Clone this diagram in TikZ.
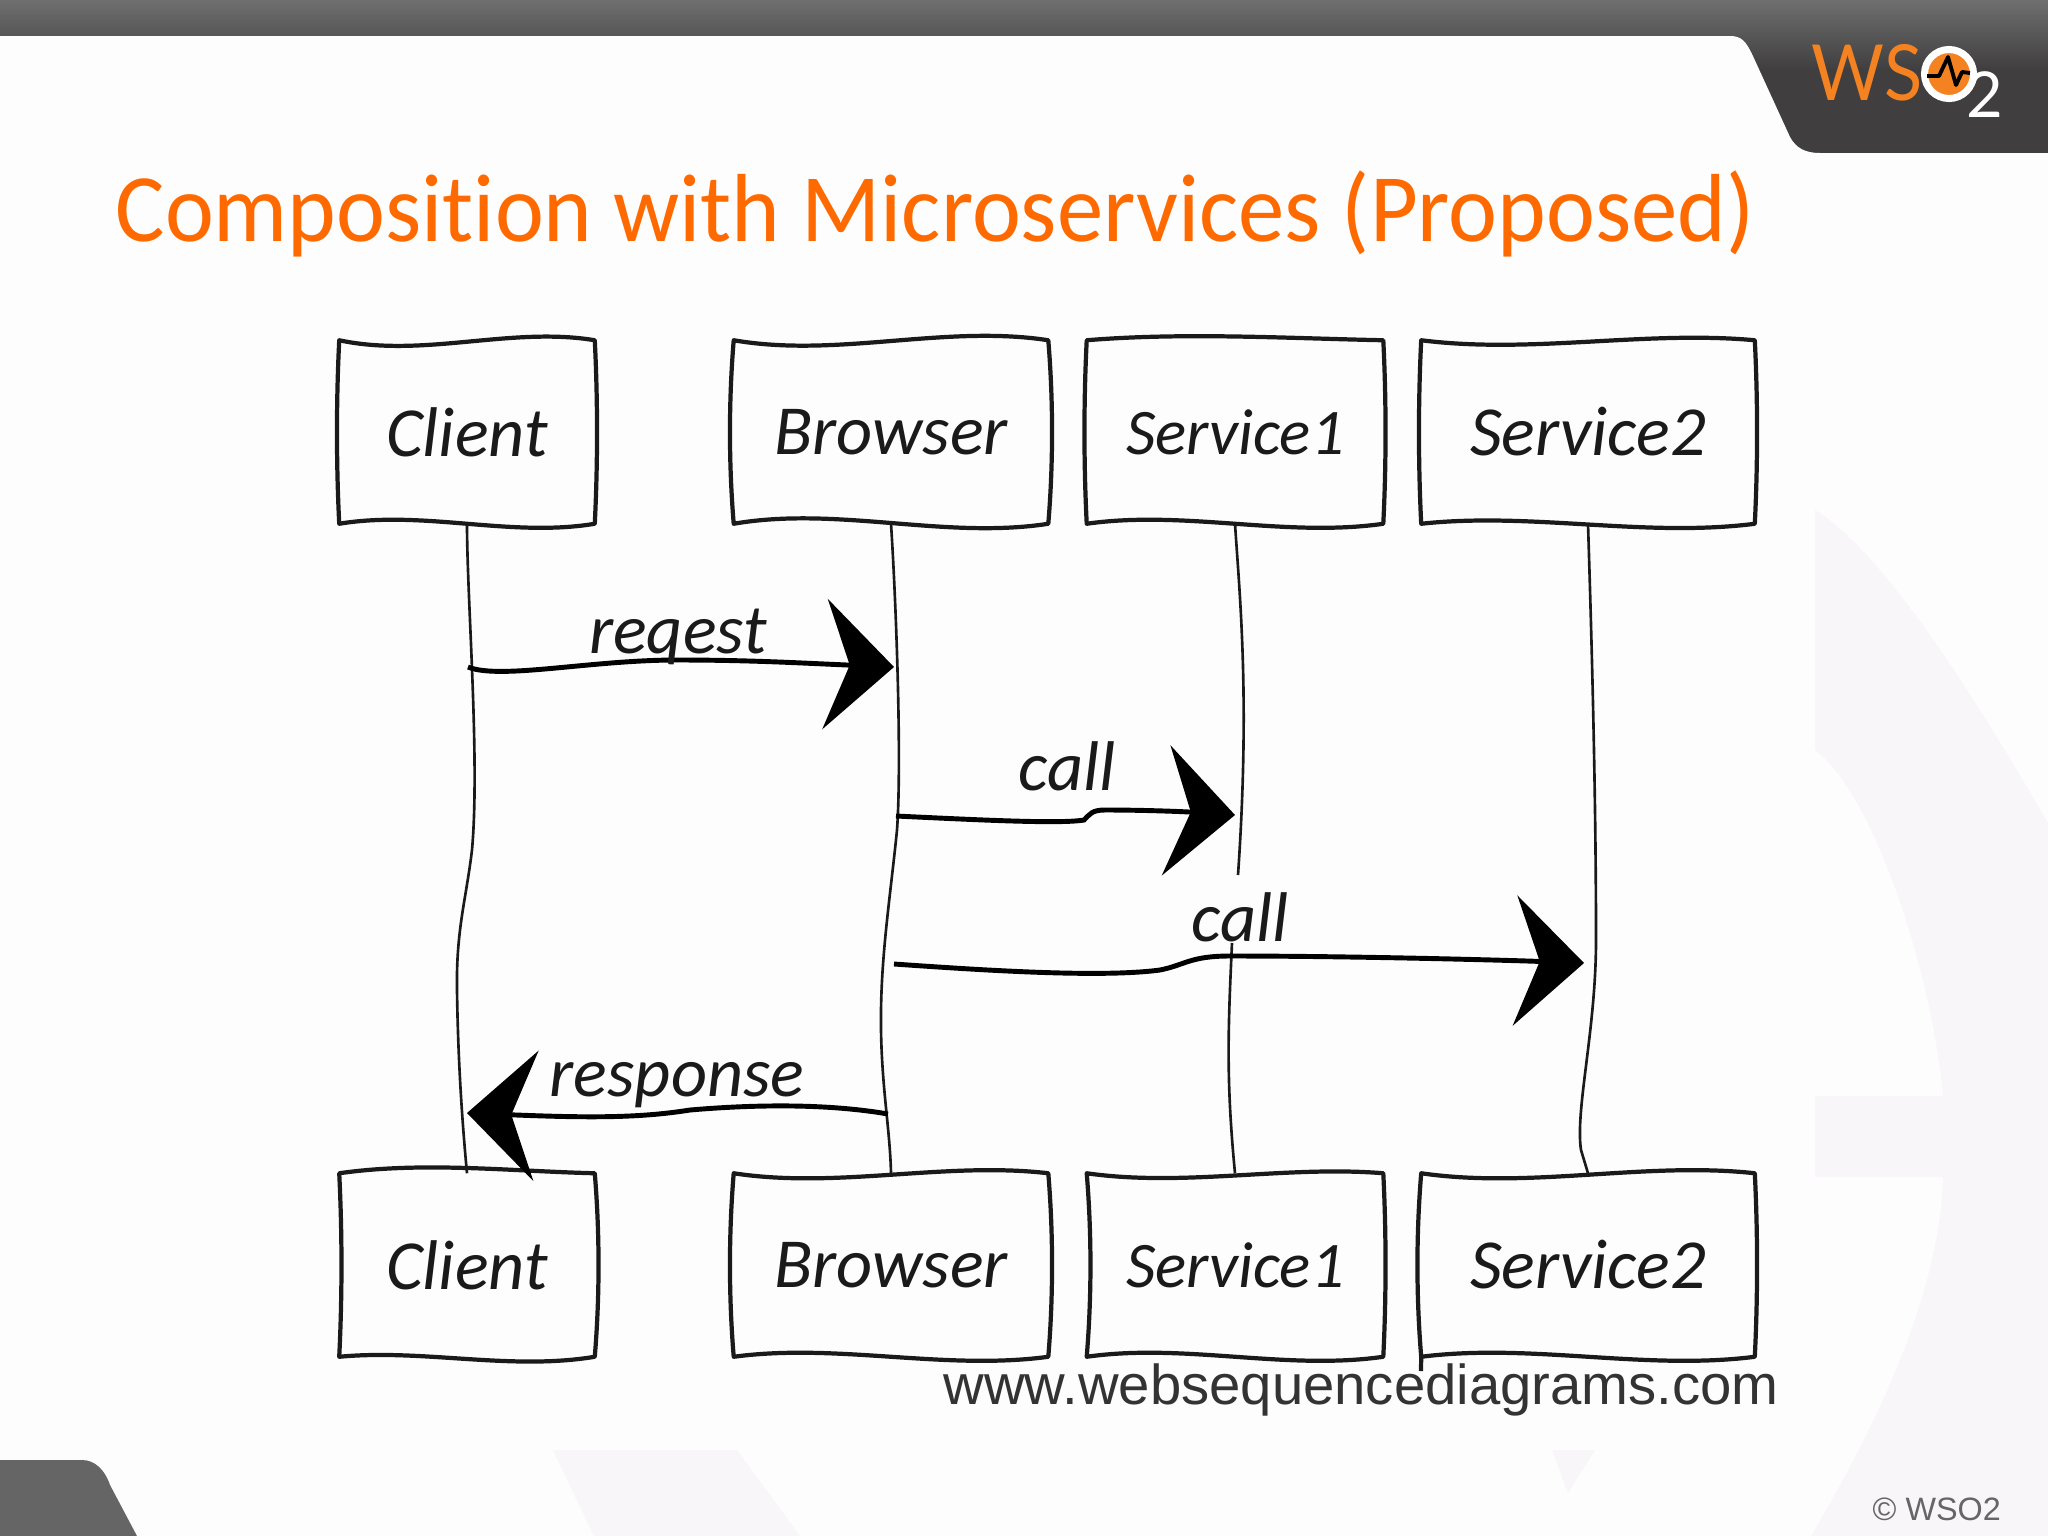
\documentclass[tikz,border=0pt]{standalone}
\usepackage{xcolor}
\usepackage{fontspec}
\usetikzlibrary{arrows.meta,calc}
\setmainfont{Liberation Sans}
\newfontfamily\handfont[ItalicFont=Carlito Italic]{Carlito}
\newfontfamily\titlefont[Ligatures=NoCommon]{Carlito}
\newfontfamily\logofont{Lato}
\definecolor{slidebg}{HTML}{FEFDFE}
\definecolor{markgrey}{HTML}{F8F6F9}
\definecolor{hdrtop}{HTML}{6F6F6F}
\definecolor{hdrdark}{HTML}{403E3F}
\definecolor{tabgrey}{HTML}{666566}
\definecolor{titleorange}{HTML}{FF6A00}
\definecolor{logoorange}{HTML}{F58220}
\definecolor{inkblack}{HTML}{1A1A1A}
\tikzset{
  lifebox/.style={minimum height=1.82cm,inner sep=0pt,font=\handfont\itshape\fontsize{20}{24}\selectfont,text=inkblack},
  boxline/.style={draw=inkblack,line width=1.2pt,line join=round},
  lifeline/.style={draw=inkblack,line width=0.75pt},
  msgline/.style={draw=black,line width=1.4pt,-{Stealth[length=19.6pt,width=37pt,inset=7pt]}},
  msglabel/.style={inner sep=0pt,font=\handfont\itshape\fontsize{20}{24}\selectfont,text=inkblack}
}
% one wavy outline round a lifebox node
\newcommand{\wobblebox}[7]{
  \draw[boxline] (#1.north west)
    .. controls ($(#1.north west)!.33!(#1.north east)+(0,#2)$) and ($(#1.north west)!.67!(#1.north east)+(0,#3)$) .. (#1.north east)
    .. controls ($(#1.north east)!.33!(#1.south east)+(#7,0)$) and ($(#1.north east)!.67!(#1.south east)+(#7,0)$) .. (#1.south east)
    .. controls ($(#1.south east)!.33!(#1.south west)+(0,#5)$) and ($(#1.south east)!.67!(#1.south west)+(0,#4)$) .. (#1.south west)
    .. controls ($(#1.south west)!.33!(#1.north west)+(#6,0)$) and ($(#1.south west)!.67!(#1.north west)+(#6,0)$) .. cycle;
}
\begin{document}
\begin{tikzpicture}[x=0.01cm,y=-0.01cm]
\useasboundingbox (0,0) rectangle (2048,1536);
\fill[slidebg] (0,0) rectangle (2048,1536);
% watermark
\fill[markgrey] (1815,510) .. controls (1880,550) and (1965,680) .. (2048,823) -- (2048,1536) -- (1811,1536)
  .. controls (1880,1420) and (1940,1290) .. (1943,1177) -- (1815,1177) -- (1815,1096) -- (1943,1096)
  .. controls (1930,960) and (1870,790) .. (1815,750) -- cycle;
\fill[markgrey] (553,1450) -- (737,1450) -- (800,1536) -- (594,1536) -- cycle;
\fill[markgrey] (1552,1450) -- (1595,1450) -- (1568,1493) -- cycle;
% header and corner
\shade[top color=hdrtop,bottom color=hdrdark] (0,0) rectangle (2048,70);
\fill[hdrdark] (1700,69) rectangle (2048,153);
\fill[slidebg] (0,36) -- (1730,36) .. controls (1742,36) and (1746,42) .. (1752,54) -- (1790,137)
  .. controls (1796,148) and (1805,153) .. (1820,153) -- (0,153) -- cycle;
\fill[tabgrey] (0,1460) -- (82,1460) .. controls (95,1460) and (105,1470) .. (110,1485) -- (137,1536) -- (0,1536) -- cycle;
% logo
\node[anchor=base west,inner sep=0pt,text=logoorange,font=\logofont\fontsize{22}{26}\selectfont] (logoWS) at (1811,100) {\scalebox{0.91}[1]{WS}};
\node[circle,fill=logoorange,draw=white,line width=2pt,minimum size=0.49cm,inner sep=0pt] (logoO) at (1949,74) {};
\draw[black,line width=1.1pt,line join=round] (1927,76) -- (1939,76) -- (1948,57) -- (1956,85) -- (1962,72) -- (1970,73);
\node[anchor=base west,inner sep=0pt,text=white,font=\logofont\fontsize{18}{22}\selectfont] (logo2) at (1966,117) {2};
% title
\node[anchor=base west,inner sep=0pt,text=titleorange,font=\titlefont\fontsize{27.5}{32}\selectfont] (title) at (115,241) {\scalebox{0.958}[1]{Composition with Microservices (Proposed)}};
% lifeline boxes
\node[lifebox,minimum width=2.54cm] (clientTop) at (467,432) {Client};
\node[lifebox,minimum width=3.13cm] (browserTop) at (891,432) {Browser};
\node[lifebox,minimum width=2.95cm,font=\handfont\itshape\fontsize{18.5}{22}\selectfont] (serviceATop) at (1235,432) {Service1};
\node[lifebox,minimum width=3.32cm] (serviceBTop) at (1588,432) {Service2};
\node[lifebox,minimum width=2.54cm] (clientLow) at (467,1265) {Client};
\node[lifebox,minimum width=3.13cm] (browserLow) at (891,1265) {Browser};
\node[lifebox,minimum width=2.95cm,font=\handfont\itshape\fontsize{18.5}{22}\selectfont] (serviceALow) at (1235,1265) {Service1};
\node[lifebox,minimum width=3.32cm] (serviceBLow) at (1588,1265) {Service2};
\wobblebox{clientTop}{18}{-14}{-14}{14}{-3}{3}
\wobblebox{browserTop}{18}{-16}{-18}{16}{-5}{5}
\wobblebox{serviceATop}{-8}{-2}{-14}{14}{-3}{3}
\wobblebox{serviceBTop}{14}{-10}{-12}{14}{-3}{3}
\wobblebox{clientLow}{-12}{-2}{-8}{14}{3}{5}
\wobblebox{browserLow}{16}{-12}{-14}{14}{-5}{5}
\wobblebox{serviceALow}{14}{-8}{-14}{14}{5}{3}
\wobblebox{serviceBLow}{16}{-12}{-14}{14}{-5}{3}
\coordinate (tailB) at (1421,1371);
\draw[boxline] (serviceBLow.south west) -- (tailB);
% lifelines
\coordinate (serviceAGapTop) at (1238,875);
\coordinate (serviceAGapLow) at (1232,943);
\draw[lifeline] (clientTop.south) .. controls (467,600) and (480,760) .. (472,850) .. controls (466,900) and (456,930) .. (457,990) .. controls (458,1060) and (462,1120) .. (clientLow.north);
\draw[lifeline] (browserTop.south) .. controls (896,600) and (902,760) .. (897,830) .. controls (890,900) and (880,960) .. (881,1030) .. controls (882,1090) and (890,1130) .. (browserLow.north);
\draw[lifeline] (serviceATop.south) .. controls (1240,600) and (1250,700) .. (serviceAGapTop);
\draw[lifeline] (serviceAGapLow) .. controls (1228,1030) and (1226,1080) .. (serviceALow.north);
\draw[lifeline] (serviceBTop.south) .. controls (1592,650) and (1596,800) .. (1596,940) .. controls (1596,1030) and (1575,1110) .. (1581,1150) -- (serviceBLow.north);
% messages
\coordinate (reqFrom) at (468,667);
\coordinate (reqTo) at (894,667);
\coordinate (callAFrom) at (896,816);
\coordinate (callATo) at (1235,815);
\coordinate (callBFrom) at (894,964);
\coordinate (callBTo) at (1584,963);
\coordinate (respFrom) at (888,1114);
\coordinate (respTo) at (467,1113);
\draw[msgline] (reqFrom) .. controls (500,680) and (590,660) .. (677,660) .. controls (750,660) and (800,663) .. (reqTo);
\draw[msgline] (callAFrom) .. controls (980,820) and (1060,824) .. (1084,820) .. controls (1090,814) and (1092,810) .. (1105,810) .. controls (1150,810) and (1190,812) .. (callATo);
\draw[msgline] (callBFrom) .. controls (980,970) and (1100,978) .. (1160,970) .. controls (1185,965) and (1190,956) .. (1230,956) .. controls (1350,956) and (1500,960) .. (callBTo);
\draw[msgline] (respFrom) .. controls (830,1104) and (760,1104) .. (690,1110) .. controls (640,1118) and (590,1118) .. (respTo);
\node[msglabel] (reqLabel) at (678,637) {reqest};
\node[msglabel] (callALabel) at (1067,766) {call};
\node[msglabel] (callBLabel) at (1240,917) {call};
\node[msglabel] (respLabel) at (677,1085) {response};
% credits
\node[inner sep=0pt,anchor=base west,text=black!80,font=\fontsize{16}{20}\selectfont] (siteLabel) at (943,1404) {www.websequencediagrams.com};
\node[inner sep=0pt,anchor=base west,text=black!60,font=\fontsize{9.2}{11}\selectfont] (copyLabel) at (1872,1520) {© WSO2};
\end{tikzpicture}
\end{document}
